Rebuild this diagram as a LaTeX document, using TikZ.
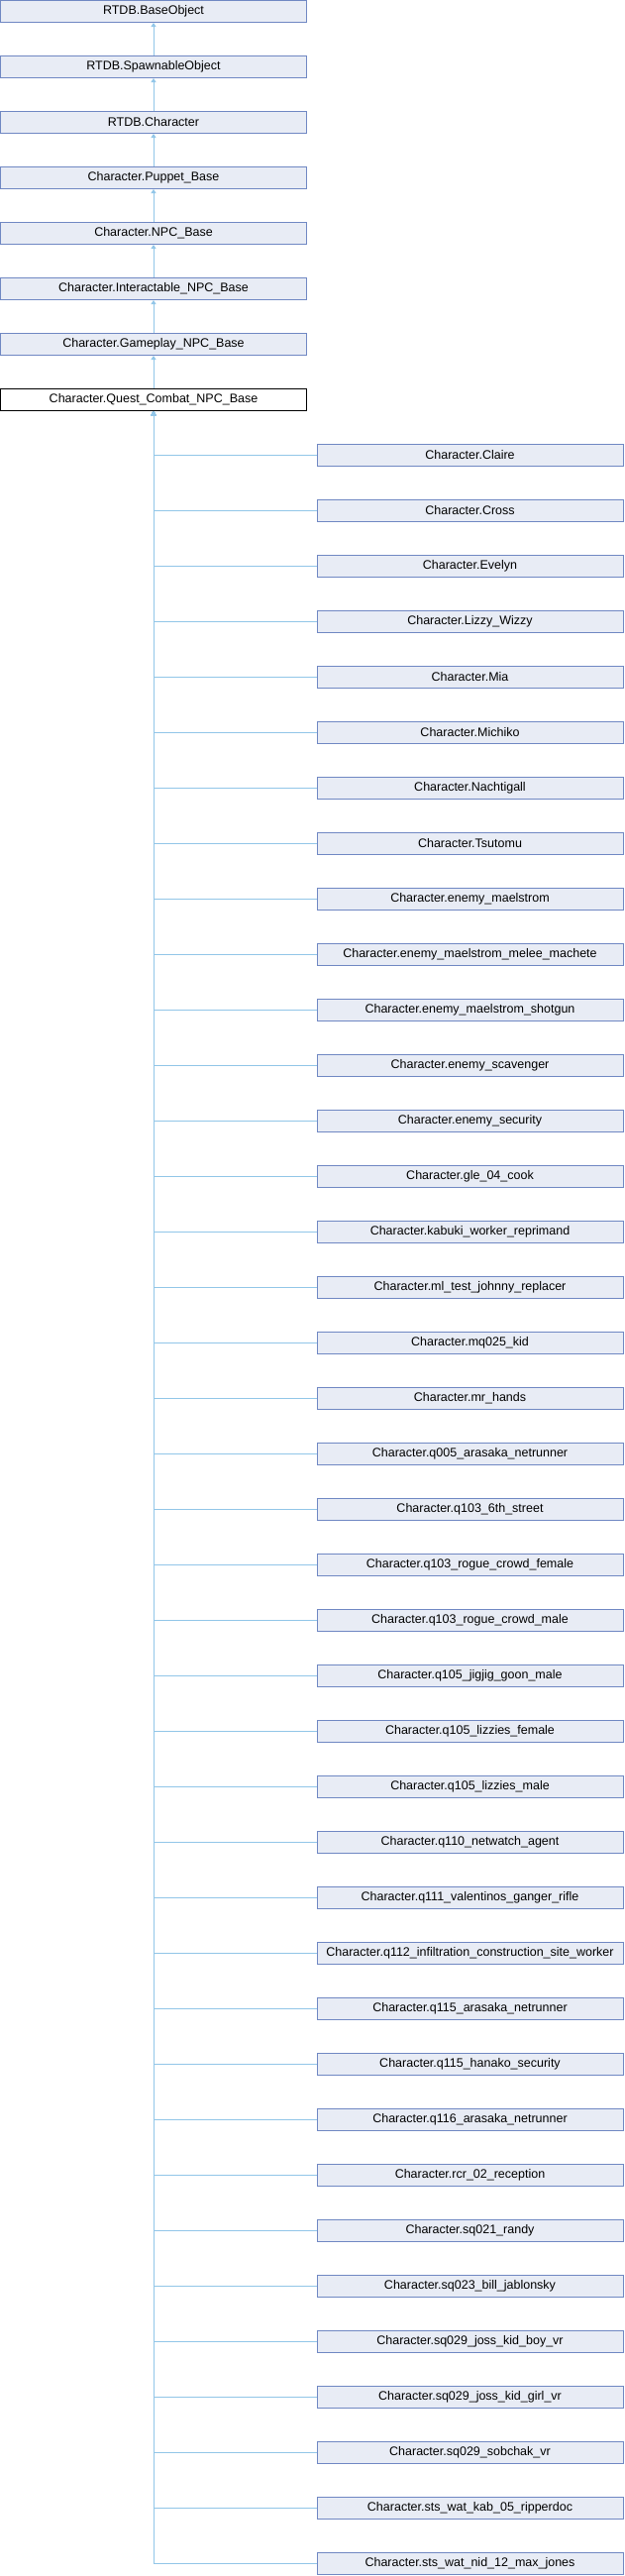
\documentclass[tikz,border=0pt]{standalone}
\usepackage{fontspec}
\setmainfont{Liberation Sans}
\usetikzlibrary{arrows.meta}

\definecolor{boxfill}{HTML}{E8ECF5}
\definecolor{boxline}{HTML}{7088C3}
\definecolor{edgeline}{HTML}{92C6E8}

\tikzset{
  classbox/.style={rectangle, draw=boxline, fill=boxfill, line width=1pt,
    minimum width=309pt, minimum height=22pt, inner sep=0pt,
    font=\fontsize{12.5}{14}\selectfont},
  currentbox/.style={classbox, draw=black, fill=white},
  inherit/.style={draw=edgeline, line width=1pt, -{Triangle[length=4pt,width=5pt]}}
}

\begin{document}
\begin{tikzpicture}[x=1pt,y=-1pt]
  \useasboundingbox (0,0) rectangle (630,2600);

  % base chain
  \node[classbox] (baseobj)      at (155,11.5)  {RTDB.BaseObject};
  \node[classbox] (spawnable)    at (155,67.5)  {RTDB.SpawnableObject};
  \node[classbox] (rtdbchar)     at (155,123.5) {RTDB.Character};
  \node[classbox] (puppet)       at (155,179.5) {Character.Puppet\_Base};
  \node[classbox] (npc)          at (155,235.5) {Character.NPC\_Base};
  \node[classbox] (interactable) at (155,291.5) {Character.Interactable\_NPC\_Base};
  \node[classbox] (gameplay)     at (155,347.5) {Character.Gameplay\_NPC\_Base};
  \node[currentbox] (questcombat) at (155,403.5) {Character.Quest\_Combat\_NPC\_Base};

  \path[inherit] (spawnable) -- (baseobj);
  \path[inherit] (rtdbchar) -- (spawnable);
  \path[inherit] (puppet) -- (rtdbchar);
  \path[inherit] (npc) -- (puppet);
  \path[inherit] (interactable) -- (npc);
  \path[inherit] (gameplay) -- (interactable);
  \path[inherit] (questcombat) -- (gameplay);

  % derived classes
  \foreach \cname [count=\i from 0] in {Claire, Cross, Evelyn, Lizzy\_Wizzy, Mia,
      Michiko, Nachtigall, Tsutomu, enemy\_maelstrom,
      enemy\_maelstrom\_melee\_machete, enemy\_maelstrom\_shotgun,
      enemy\_scavenger, enemy\_security, gle\_04\_cook,
      kabuki\_worker\_reprimand, ml\_test\_johnny\_replacer, mq025\_kid,
      mr\_hands, q005\_arasaka\_netrunner, q103\_6th\_street,
      q103\_rogue\_crowd\_female, q103\_rogue\_crowd\_male,
      q105\_jigjig\_goon\_male, q105\_lizzies\_female, q105\_lizzies\_male,
      q110\_netwatch\_agent, q111\_valentinos\_ganger\_rifle,
      q112\_infiltration\_construction\_site\_worker,
      q115\_arasaka\_netrunner, q115\_hanako\_security,
      q116\_arasaka\_netrunner, rcr\_02\_reception, sq021\_randy,
      sq023\_bill\_jablonsky, sq029\_joss\_kid\_boy\_vr,
      sq029\_joss\_kid\_girl\_vr, sq029\_sobchak\_vr,
      sts\_wat\_kab\_05\_ripperdoc, sts\_wat\_nid\_12\_max\_jones}
  {
    \node[classbox] (child\i) at (474.5,459.5+56*\i) {Character.\cname};
    \path[inherit] (child\i.west) -| (questcombat.south);
  }

\end{tikzpicture}
\end{document}
